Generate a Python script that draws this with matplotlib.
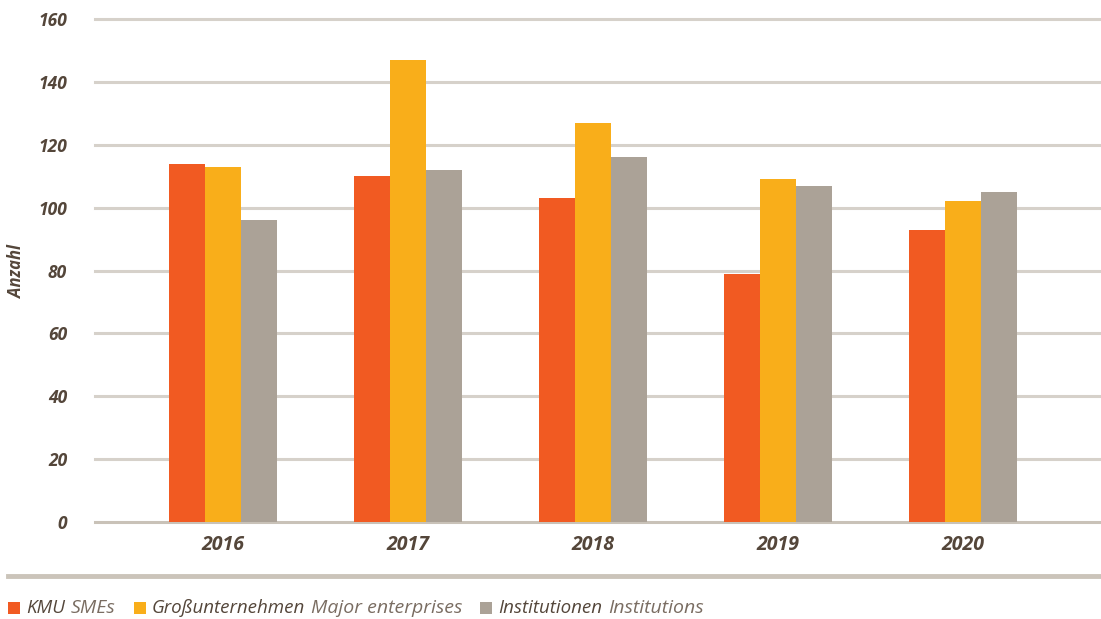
import matplotlib
matplotlib.use("Agg")
import matplotlib.pyplot as plt
import numpy as np
from matplotlib.patches import Rectangle
from matplotlib.lines import Line2D

years = ["2016", "2017", "2018", "2019", "2020"]
kmu = [114, 110, 103, 79, 93]
gross = [113, 147, 127, 109, 102]
institutionen = [96, 112, 116, 107, 105]

series = [
    ("KMU", "SMEs", kmu, "#f15a22"),
    ("Großunternehmen", "Major enterprises", gross, "#f9ae1a"),
    ("Institutionen", "Institutions", institutionen, "#aba297"),
]

text_dark = "#54463a"
text_light = "#7a6d62"
grid_col = "#d6d1ca"
font = "Open Sans"

fig = plt.figure(figsize=(11.01, 6.19), dpi=100)
ax = fig.add_axes([95 / 1101, 1 - 522 / 619, 1005 / 1101, 503 / 619])

x = np.arange(len(years))
w = 0.195
for i, (_, _, vals, col) in enumerate(series):
    ax.bar(x + (i - 1) * w, vals, width=w, color=col, zorder=3, linewidth=0)

ax.set_ylim(0, 160)
ax.set_xlim(-0.69, 4.74)
yticks = np.arange(0, 161, 20)
for yv in yticks:
    ax.axhline(yv, color="#c9c2b8" if yv == 0 else grid_col, lw=2.2, zorder=1, clip_on=False)

for s in ax.spines.values():
    s.set_visible(False)
ax.set_yticks(yticks)
ax.set_xticks(x)
ax.set_xticklabels(years)
ax.tick_params(length=0)
ax.tick_params(axis="y", pad=20)
ax.tick_params(axis="x", pad=9)
for lab in ax.get_yticklabels() + ax.get_xticklabels():
    lab.set_fontfamily(font)
    lab.set_fontstyle("italic")
    lab.set_fontweight("bold")
    lab.set_color(text_dark)
for lab in ax.get_yticklabels():
    lab.set_fontsize(12.5)
for lab in ax.get_xticklabels():
    lab.set_fontsize(14)

fig.text(17 / 1101, 1 - 272 / 619, "Anzahl", rotation=90, ha="center", va="center",
         family=font, style="italic", weight="bold", fontsize=12, color=text_dark)

# separator above the legend
fig.add_artist(Line2D([8 / 1101, 1100 / 1101], [1 - 576 / 619] * 2, color="#cbc4ba", lw=3.5))

# legend: colored square, German label (dark), English label (light)
renderer = fig.canvas.get_renderer()
legend_y = 1 - 608 / 619
sq = 12
prev = None
for de, en, _, col in series:
    if prev is None:
        x0 = 8 / 1101
    else:
        bb = prev.get_window_extent(renderer)
        x0 = (bb.x1 + 18) / 1101
    fig.add_artist(Rectangle((x0, legend_y - sq / 2 / 619), sq / 1101, sq / 619,
                             transform=fig.transFigure, color=col, lw=0))
    t1 = fig.text(x0 + (sq + 6) / 1101, legend_y, de, va="center", family=font,
                  style="italic", fontsize=13.5, color=text_dark)
    bb1 = t1.get_window_extent(renderer)
    prev = fig.text((bb1.x1 + 6) / 1101, legend_y, en, va="center", family=font,
                    style="italic", fontsize=14, color=text_light)

fig.savefig("out.png", dpi=100)
